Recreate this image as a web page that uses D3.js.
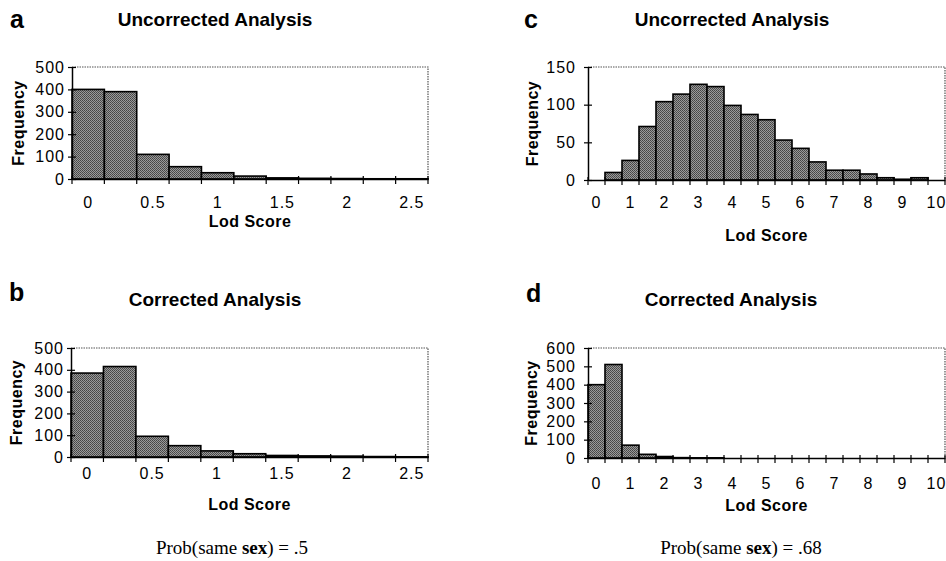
<!DOCTYPE html>
<html>
<head>
<meta charset="utf-8">
<script src="https://cdn.jsdelivr.net/npm/d3@7"></script>
<style>
  body { margin: 0; background: #fff; }
  svg { display: block; }
  .sans { font-family: "Liberation Sans", Arial, Helvetica, sans-serif; }
</style>
</head>
<body>
<svg id="fig" width="946" height="561"></svg>
<script>
// Lod score bins (category axis, like the Excel histograms)
const lodBinsAB = ["0", "0.25", "0.5", "0.75", "1", "1.25", "1.5", "1.75", "2", "2.25", "2.5"];
const lodBinsCD = ["0", "0.5", "1", "1.5", "2", "2.5", "3", "3.5", "4", "4.5", "5",
                   "5.5", "6", "6.5", "7", "7.5", "8", "8.5", "9", "9.5", "10"];

// Frequencies
const freqA = [400, 390, 110, 55, 28, 13, 5, 3, 2, 1, 1];
const freqB = [385, 415, 95, 52, 28, 15, 7, 5, 4, 2, 1];
const freqC = [0, 10, 26, 71, 104, 114, 127, 124, 99, 87, 80, 53, 42, 24, 13, 13, 8, 3, 1, 3, 0];
const freqD = [400, 510, 70, 20, 8, 2, 1, 1, 0, 0, 0, 0, 0, 0, 0, 0, 0, 0, 0, 0, 0];

// y tick values
const yTicksAB = [0, 100, 200, 300, 400, 500];
const yTicksC = [0, 50, 100, 150];
const yTicksD = [0, 100, 200, 300, 400, 500, 600];

const panels = [
  { letter: "a", title: "Uncorrected Analysis", bins: lodBinsAB, freq: freqA, yTicks: yTicksAB,
    left: 72, right: 428, top: 67, bottom: 179, letterX: 10, letterY: 28, titleX: 215, titleY: 26,
    freqX: 24, labelGap: 7, tickY: 29, lodY: 227 },
  { letter: "b", title: "Corrected Analysis", bins: lodBinsAB, freq: freqB, yTicks: yTicksAB,
    left: 71, right: 428, top: 348, bottom: 457, letterX: 9, letterY: 301, titleX: 215, titleY: 306,
    freqX: 22, labelGap: 7, tickY: 22, lodY: 510 },
  { letter: "c", title: "Uncorrected Analysis", bins: lodBinsCD, freq: freqC, yTicks: yTicksC,
    left: 588, right: 945, top: 67, bottom: 180, letterX: 524, letterY: 28, titleX: 732, titleY: 26,
    freqX: 538, labelGap: 12, tickY: 28, lodY: 241 },
  { letter: "d", title: "Corrected Analysis", bins: lodBinsCD, freq: freqD, yTicks: yTicksD,
    left: 588, right: 945, top: 348, bottom: 458, letterX: 526, letterY: 302, titleX: 731, titleY: 306,
    freqX: 537, labelGap: 12, tickY: 31, lodY: 511 }
];

const svg = d3.select("#fig");

// dithered grey fill like the scanned bars
const defs = svg.append("defs");
const pat = defs.append("pattern")
  .attr("id", "dither")
  .attr("width", 2).attr("height", 2)
  .attr("patternUnits", "userSpaceOnUse");
pat.append("rect").attr("width", 2).attr("height", 2).attr("fill", "#9a9a9a");
pat.append("rect").attr("width", 1).attr("height", 1).attr("fill", "#444");
pat.append("rect").attr("x", 1).attr("y", 1).attr("width", 1).attr("height", 1).attr("fill", "#505050");

function drawPanel(p) {
  const g = svg.append("g").attr("class", "sans");

  const x = d3.scaleBand()
    .domain(p.bins)
    .range([p.left, p.right])
    .padding(0);

  const y = d3.scaleLinear()
    .domain([0, d3.max(p.yTicks)])
    .range([p.bottom, p.top]);

  // plot area border (dotted top and right)
  g.append("path")
    .attr("d", `M${p.left},${p.top}H${p.right}V${p.bottom}`)
    .attr("fill", "none")
    .attr("stroke", "#555")
    .attr("stroke-width", 1.2)
    .attr("stroke-dasharray", "1.5,1");

  // bars
  g.selectAll("rect.bar")
    .data(p.bins.map((b, i) => ({ bin: b, v: p.freq[i] })).filter(d => d.v > 0))
    .enter()
    .append("rect")
    .attr("class", "bar")
    .attr("x", d => x(d.bin))
    .attr("y", d => y(d.v))
    .attr("width", x.bandwidth())
    .attr("height", d => y(0) - y(d.v))
    .attr("fill", "url(#dither)")
    .attr("stroke", "#000")
    .attr("stroke-width", 1.6);

  // y axis
  const yAxis = g.append("g")
    .attr("transform", `translate(${p.left},0)`)
    .call(d3.axisLeft(y).tickValues(p.yTicks).tickSize(0).tickPadding(p.labelGap));
  yAxis.select(".domain").attr("stroke", "#000").attr("stroke-width", 1.5);
  yAxis.selectAll(".tick line")
    .attr("x1", -4).attr("x2", 4)
    .attr("stroke", "#000").attr("stroke-width", 1.2);
  yAxis.selectAll(".tick text")
    .attr("font-size", 16)
    .attr("letter-spacing", 1)
    .attr("fill", "#000");

  // x axis: ticks on bin edges, labels on every other bin
  const xAxis = g.append("g")
    .attr("transform", `translate(0,${p.bottom})`)
    .call(d3.axisBottom(x).tickSize(0).tickPadding(0).tickFormat((d, i) => i % 2 === 0 ? d : ""));
  xAxis.select(".domain").attr("stroke", "#000").attr("stroke-width", 1.5);
  xAxis.selectAll(".tick text")
    .attr("font-size", 16)
    .attr("letter-spacing", 1)
    .attr("dy", 0)
    .attr("y", p.tickY)
    .attr("fill", "#000");
  const edges = p.bins.map(b => x(b)).concat([p.right]);
  xAxis.selectAll("line.edge")
    .data(edges)
    .enter()
    .append("line")
    .attr("class", "edge")
    .attr("x1", d => d).attr("x2", d => d)
    .attr("y1", -3).attr("y2", 5)
    .attr("stroke", "#000").attr("stroke-width", 1.2);

  // axis titles
  g.append("text")
    .attr("transform", `translate(${p.freqX},${(p.top + p.bottom) / 2}) rotate(-90)`)
    .attr("text-anchor", "middle")
    .attr("font-size", 16)
    .attr("letter-spacing", 0.5)
    .attr("font-weight", "bold")
    .text("Frequency");

  g.append("text")
    .attr("x", (p.left + p.right) / 2)
    .attr("y", p.lodY)
    .attr("text-anchor", "middle")
    .attr("font-size", 16)
    .attr("letter-spacing", 0.5)
    .attr("font-weight", "bold")
    .text("Lod Score");

  // panel title and letter
  g.append("text")
    .attr("x", p.titleX)
    .attr("y", p.titleY)
    .attr("text-anchor", "middle")
    .attr("font-size", 19)
    .attr("font-weight", "bold")
    .text(p.title);

  g.append("text")
    .attr("x", p.letterX)
    .attr("y", p.letterY)
    .attr("font-size", 25)
    .attr("font-weight", "bold")
    .text(p.letter);
}

panels.forEach(drawPanel);

// captions below each column
const captions = [
  { x: 232, prob: ".5" },
  { x: 741, prob: ".68" }
];
captions.forEach(c => {
  const t = svg.append("text")
    .attr("x", c.x)
    .attr("y", 554)
    .attr("text-anchor", "middle")
    .attr("font-family", "'Liberation Serif', 'Times New Roman', serif")
    .attr("font-size", 19);
  t.append("tspan").text("Prob(same ");
  t.append("tspan").attr("font-weight", "bold").text("sex");
  t.append("tspan").text(") = " + c.prob);
});
</script>
</body>
</html>
